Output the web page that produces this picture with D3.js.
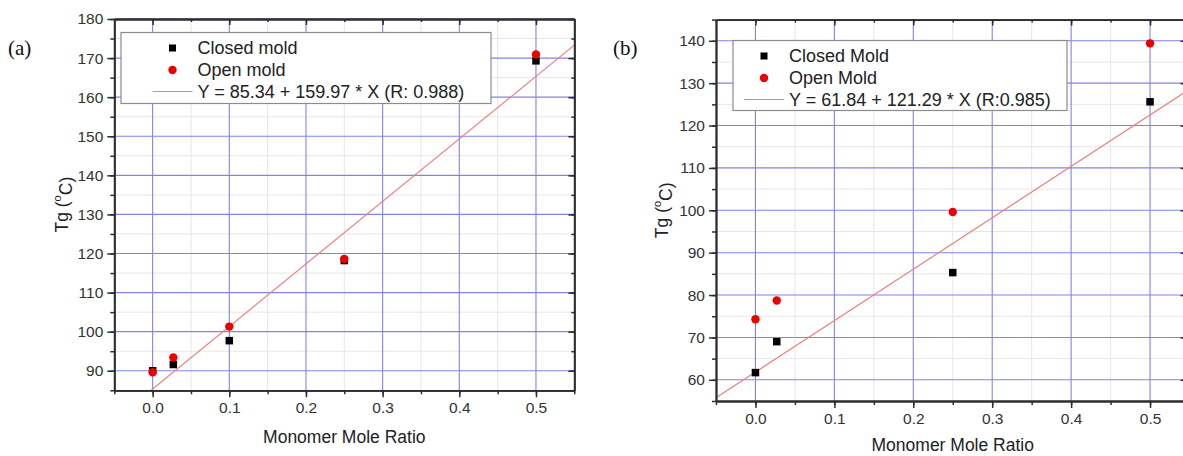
<!DOCTYPE html>
<html><head><meta charset="utf-8">
<script src="https://cdn.jsdelivr.net/npm/d3@7"></script>
<style>body{margin:0;background:#fff;overflow:hidden} svg{display:block}</style>
</head><body>
<svg id="chart" width="1183" height="456"></svg>
<script>
// ---------- data ----------
const xTickValues = [0.0, 0.1, 0.2, 0.3, 0.4, 0.5];
const xTickLabels = ["0.0", "0.1", "0.2", "0.3", "0.4", "0.5"];
const aYTicks = [90, 100, 110, 120, 130, 140, 150, 160, 170, 180];
const bYTicks = [60, 70, 80, 90, 100, 110, 120, 130, 140];

const aRatio  = [0.0, 0.027, 0.1, 0.25, 0.5];
const aClosed = [90.0, 91.6, 97.7, 118.2, 169.3];
const aOpen   = [89.6, 93.4, 101.3, 118.6, 170.9];
const aFitCoef = [85.34, 159.97];
const aLegend = ["Closed mold", "Open mold", "Y = 85.34 + 159.97 * X (R: 0.988)"];

const bRatio  = [0.0, 0.027, 0.25, 0.5];
const bClosed = [61.7, 69.0, 85.3, 125.6];
const bOpen   = [74.3, 78.7, 99.6, 139.4];
const bFitCoef = [61.84, 121.29];
const bLegend = ["Closed Mold", "Open Mold", "Y = 61.84 + 121.29 * X (R:0.985)"];

const panelTags = ["(a)", "(b)"];
const xTitle = "Monomer Mole Ratio";

// ---------- drawing ----------
const svg = d3.select("#chart");
const FONT = "'Liberation Sans', Arial, sans-serif";
const GRID_MAJOR = "#8282ec";
const GRID_MINOR = "#e4e8e4";
const AXIS = "#2e2e2e";

function drawPanel(p) {
  const g = svg.append("g");
  const x = d3.scaleLinear().domain(p.xDomain).range([p.left, p.right]);
  const y = d3.scaleLinear().domain(p.yDomain).range([p.bottom, p.top]);
  const xMinor = d3.range(-0.05, 0.5501, 0.05).map(v => +v.toFixed(2));
  const yMinor = d3.range(p.yDomain[0], p.yDomain[1] + 0.01, 5);

  const clipId = "clip" + p.id;
  g.append("clipPath").attr("id", clipId).append("rect")
    .attr("x", p.left).attr("y", p.top).attr("width", p.right - p.left).attr("height", p.bottom - p.top);

  // minor grid
  g.append("g").selectAll("line").data(xMinor.filter(v => !xTickValues.some(t => Math.abs(t - v) < 1e-6))).join("line")
    .attr("x1", d => x(d)).attr("x2", d => x(d)).attr("y1", p.top).attr("y2", p.bottom)
    .attr("stroke", GRID_MINOR).attr("stroke-width", 1);
  g.append("g").selectAll("line").data(yMinor.filter(v => v % 10 !== 0)).join("line")
    .attr("y1", d => y(d)).attr("y2", d => y(d)).attr("x1", p.left).attr("x2", p.right)
    .attr("stroke", GRID_MINOR).attr("stroke-width", 1);
  // major grid
  g.append("g").selectAll("line").data(xTickValues).join("line")
    .attr("x1", d => x(d)).attr("x2", d => x(d)).attr("y1", p.top).attr("y2", p.bottom)
    .attr("stroke", GRID_MAJOR).attr("stroke-width", 1.1);
  g.append("g").selectAll("line").data(p.yTicks).join("line")
    .attr("y1", d => y(d)).attr("y2", d => y(d)).attr("x1", p.left).attr("x2", p.right)
    .attr("stroke", GRID_MAJOR).attr("stroke-width", 1.1);

  // fit line
  const fitX = p.xDomain;
  g.append("line").attr("clip-path", `url(#${clipId})`)
    .attr("x1", x(fitX[0])).attr("y1", y(p.fit[0] + p.fit[1] * fitX[0]))
    .attr("x2", x(fitX[1])).attr("y2", y(p.fit[0] + p.fit[1] * fitX[1]))
    .attr("stroke", "#ee8080").attr("stroke-width", 1.2);

  // axes
  const fmt = d => xTickLabels[xTickValues.findIndex(t => Math.abs(t - d) < 1e-6)];
  const styleAxis = sel => {
    sel.select(".domain").attr("stroke", AXIS).attr("stroke-width", 1.8);
    sel.selectAll(".tick line").attr("stroke", AXIS).attr("stroke-width", 1.5);
    sel.selectAll("text").attr("fill", "#333").attr("font-family", FONT).attr("font-size", 15.5);
  };
  const bottom = g.append("g").attr("transform", `translate(0,${p.bottom})`)
    .call(d3.axisBottom(x).tickValues(xTickValues).tickFormat(fmt).tickSizeInner(7).tickSizeOuter(0).tickPadding(5));
  styleAxis(bottom);
  const bottomMinor = g.append("g").attr("transform", `translate(0,${p.bottom})`)
    .call(d3.axisBottom(x).tickValues(xMinor).tickFormat("").tickSizeInner(4).tickSizeOuter(0));
  styleAxis(bottomMinor);

  const left = g.append("g").attr("transform", `translate(${p.left},0)`)
    .call(d3.axisLeft(y).tickValues(p.yTicks).tickFormat(d3.format("d")).tickSizeInner(7).tickSizeOuter(0).tickPadding(4));
  styleAxis(left);
  const leftMinor = g.append("g").attr("transform", `translate(${p.left},0)`)
    .call(d3.axisLeft(y).tickValues(yMinor).tickFormat("").tickSizeInner(4).tickSizeOuter(0));
  styleAxis(leftMinor);

  const top = g.append("g").attr("transform", `translate(0,${p.top})`)
    .call(d3.axisTop(x).tickValues(xTickValues).tickFormat("").tickSizeInner(-6).tickSizeOuter(0));
  styleAxis(top);
  const topMinor = g.append("g").attr("transform", `translate(0,${p.top})`)
    .call(d3.axisTop(x).tickValues(xMinor).tickFormat("").tickSizeInner(-3).tickSizeOuter(0));
  styleAxis(topMinor);

  const right = g.append("g").attr("transform", `translate(${p.right},0)`)
    .call(d3.axisRight(y).tickValues(p.yTicks).tickFormat("").tickSizeInner(-p.rightTick).tickSizeOuter(0));
  styleAxis(right);
  const rightMinor = g.append("g").attr("transform", `translate(${p.right},0)`)
    .call(d3.axisRight(y).tickValues(yMinor).tickFormat("").tickSizeInner(-p.rightTick / 2).tickSizeOuter(0));
  styleAxis(rightMinor);

  // points
  const sq = 7.5;
  g.append("g").selectAll("rect").data(p.ratio.map((r, i) => [r, p.closed[i]])).join("rect")
    .attr("x", d => x(d[0]) - sq / 2).attr("y", d => y(d[1]) - sq / 2)
    .attr("width", sq).attr("height", sq).attr("fill", "#000");
  g.append("g").selectAll("circle").data(p.ratio.map((r, i) => [r, p.open[i]])).join("circle")
    .attr("cx", d => x(d[0])).attr("cy", d => y(d[1])).attr("r", 4.2).attr("fill", "#ee0000");

  // legend
  const L = p.legend;
  g.append("rect").attr("x", L.x).attr("y", L.y).attr("width", L.w).attr("height", L.h)
    .attr("fill", "#fff").attr("stroke", "#8c8c8c").attr("stroke-width", 1.2);
  const rows = [L.y + 15.5, L.y + 37.5, L.y + 59];
  g.append("rect").attr("x", L.sym - 3.5).attr("y", rows[0] - 3.5).attr("width", 7).attr("height", 7).attr("fill", "#000");
  g.append("circle").attr("cx", L.sym).attr("cy", rows[1]).attr("r", 4.2).attr("fill", "#ee0000");
  g.append("line").attr("x1", L.sym - 20).attr("x2", L.sym + 20).attr("y1", rows[2]).attr("y2", rows[2])
    .attr("stroke", "#ee8080").attr("stroke-width", 1.2);
  g.append("g").selectAll("text").data(p.legendText).join("text")
    .attr("x", L.sym + 25).attr("y", (d, i) => rows[i]).attr("dy", "0.36em")
    .attr("font-family", FONT).attr("font-size", 18).attr("fill", "#222").text(d => d);

  // axis titles
  g.append("text").attr("x", (p.left + p.right) / 2).attr("y", p.xTitleY)
    .attr("text-anchor", "middle").attr("font-family", FONT).attr("font-size", 17.5).attr("fill", "#222").text(xTitle);
  const yt = g.append("text").attr("transform", `translate(${p.yTitleX},${(p.top + p.bottom) / 2}) rotate(-90)`)
    .attr("text-anchor", "middle").attr("font-family", FONT).attr("font-size", 17.5).attr("fill", "#222");
  yt.append("tspan").text("Tg (");
  yt.append("tspan").attr("font-size", 11).attr("dy", "-0.6em").text("o");
  yt.append("tspan").attr("dy", "0.6em").text("C)");

  // panel tag
  g.append("text").attr("x", p.tagX).attr("y", 55).attr("font-family", "'Liberation Serif', 'Times New Roman', serif")
    .attr("font-size", 21).attr("fill", "#111").text(p.tag);
}

drawPanel({
  id: "a", tag: panelTags[0], tagX: 8,
  left: 114.3, right: 574.3, top: 19, bottom: 390.3,
  xDomain: [-0.05, 0.55], yDomain: [85, 180], yTicks: aYTicks,
  ratio: aRatio, closed: aClosed, open: aOpen, fit: aFitCoef,
  legend: { x: 121, y: 32.5, w: 370, h: 71, sym: 172.5 }, legendText: aLegend,
  xTitleY: 443, yTitleX: 68, rightTick: 6
});
drawPanel({
  id: "b", tag: panelTags[1], tagX: 613,
  left: 716, right: 1189.5, top: 19.6, bottom: 401,
  xDomain: [-0.05, 0.55], yDomain: [55, 145], yTicks: bYTicks,
  ratio: bRatio, closed: bClosed, open: bOpen, fit: bFitCoef,
  legend: { x: 733, y: 40.5, w: 334, h: 70, sym: 764 }, legendText: bLegend,
  xTitleY: 451, yTitleX: 668, rightTick: 9
});
</script>
</body></html>
